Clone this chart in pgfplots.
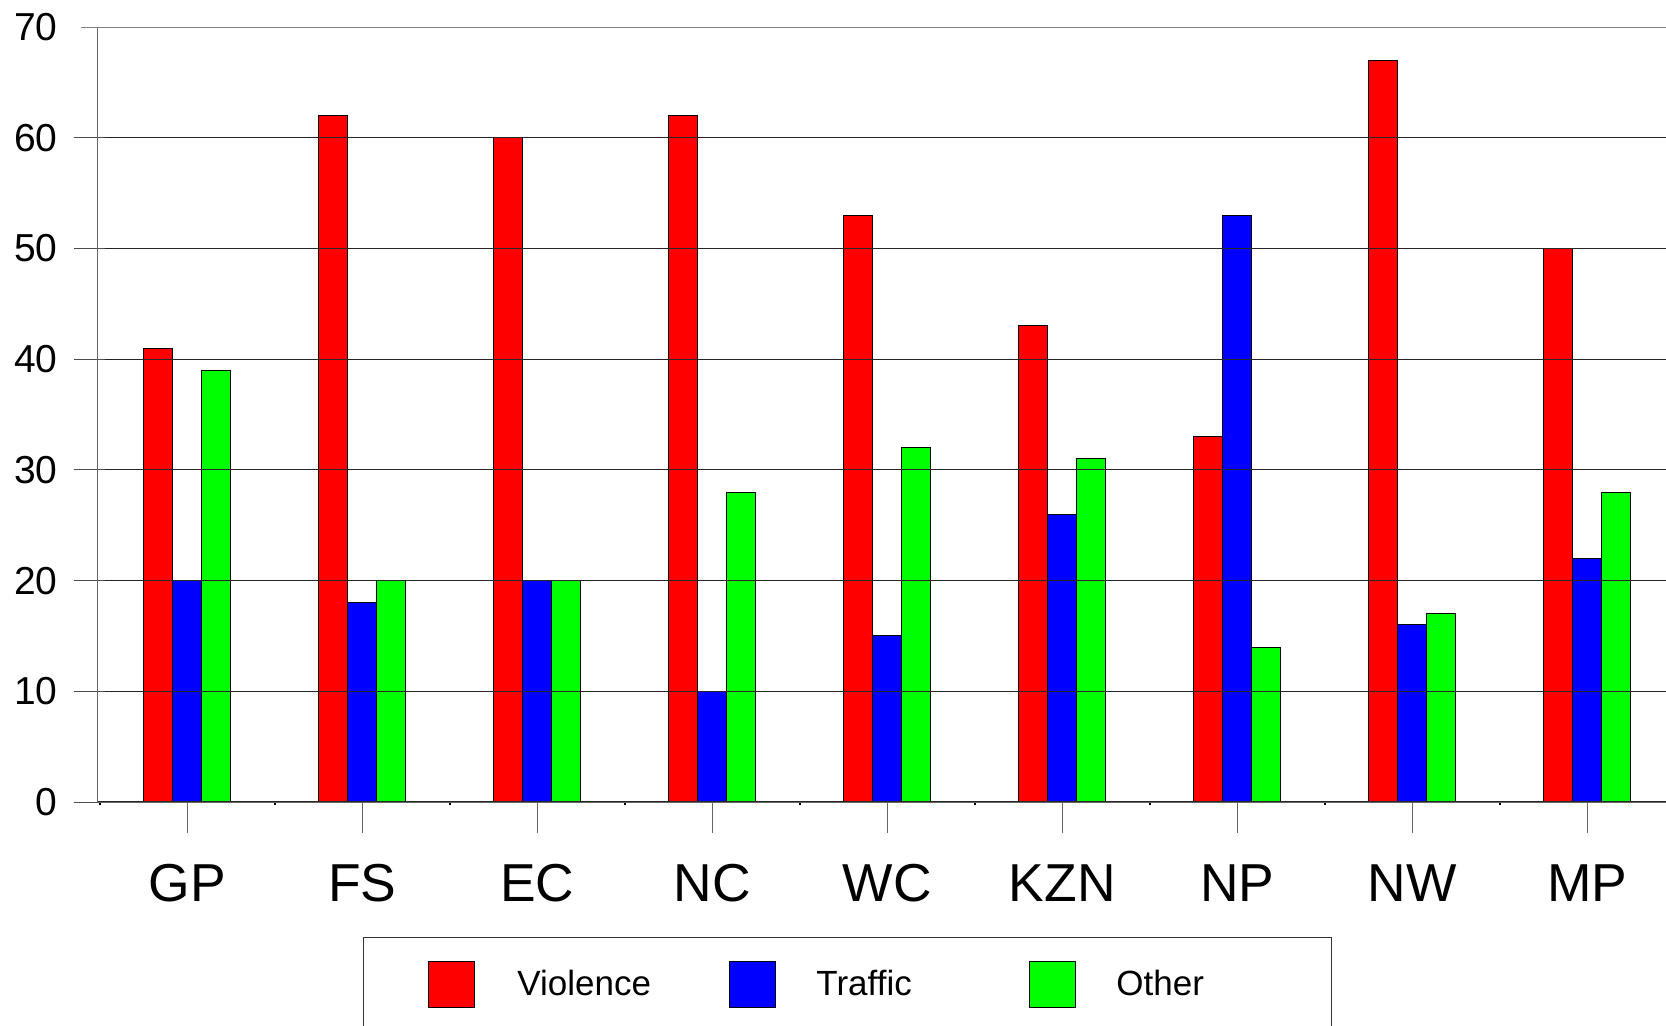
\documentclass[border=0pt]{standalone}
\usepackage{fontspec}
\setmainfont{Liberation Sans}
\usepackage{pgfplots}
\pgfplotsset{compat=1.18}
\definecolor{vred}{RGB}{255,0,0}
\definecolor{tblue}{RGB}{0,0,255}
\definecolor{ogreen}{RGB}{0,255,0}
\begin{document}
\begin{tikzpicture}
\begin{axis}[
  scale only axis, width=791pt, height=387.5pt,
  xmin=-0.51, xmax=8.53, ymin=0, ymax=70,
  ybar=0pt, bar width=14.5pt,
  legend image code/.code={\draw[#1, draw=black, line width=0.5pt] (0pt,-11.5pt) rectangle (23pt,11.5pt);},
  axis x line*=bottom, axis y line*=left,
  axis line style={draw=black!60, line width=0.5pt},
  axis on top,
  xtick={0,...,8}, xticklabels={GP,FS,EC,NC,WC,KZN,NP,NW,MP},
  minor xtick={-0.5,0.5,...,8.5},
  ytick={0,10,...,60}, extra y ticks={70},
  extra y tick style={grid style={draw=black!50, line width=0.5pt}, ytick style={draw=black!50, xshift=3.5pt}},
  ymajorgrids, grid style={draw=black!85, line width=0.6pt},
  tick align=outside,
  major tick length=15.5pt, minor tick length=1.5pt,
  xtick style={draw=black!60, line width=0.5pt},
  ytick style={draw=black!70, line width=0.5pt, xshift=3.5pt},
  minor x tick style={draw=black, line width=1pt},
  /pgf/number format/assume math mode=true,
  yticklabel style={font=\fontsize{19.5}{24}\selectfont, inner sep=0pt, anchor=east, xshift=-4.5pt},
  xticklabel style={font=\fontsize{26.7}{32}\selectfont, inner sep=0pt, anchor=north, yshift=-15.5pt},
  legend columns=3,
  legend style={at={(axis description cs:0.1675,-0.1742)}, anchor=north west,
    draw=black!80, line width=0.5pt, inner xsep=32.5pt, inner ysep=11.5pt,
    font=\fontsize{17.5}{21}\selectfont, nodes={inner sep=0pt},
    /tikz/every even column/.style={column sep=0pt}},
]
\addplot[fill=vred, draw=black, line width=0.5pt] coordinates {(0,41)(1,62)(2,60)(3,62)(4,53)(5,43)(6,33)(7,67)(8,50)};
\addlegendentry{\makebox[127pt][l]{\hspace{21pt}Violence}}
\addplot[fill=tblue, draw=black, line width=0.5pt] coordinates {(0,20)(1,18)(2,20)(3,10)(4,15)(5,26)(6,53)(7,16)(8,22)};
\addlegendentry{\makebox[126.5pt][l]{\hspace{20pt}Traffic}}
\addplot[fill=ogreen, draw=black, line width=0.5pt] coordinates {(0,39)(1,20)(2,20)(3,28)(4,32)(5,31)(6,14)(7,17)(8,28)};
\addlegendentry{\makebox[95pt][l]{\hspace{20pt}Other}}
\end{axis}
\pgfresetboundingbox
\useasboundingbox (-49pt,-111.5pt) rectangle (784pt,401pt);
\end{tikzpicture}
\end{document}
